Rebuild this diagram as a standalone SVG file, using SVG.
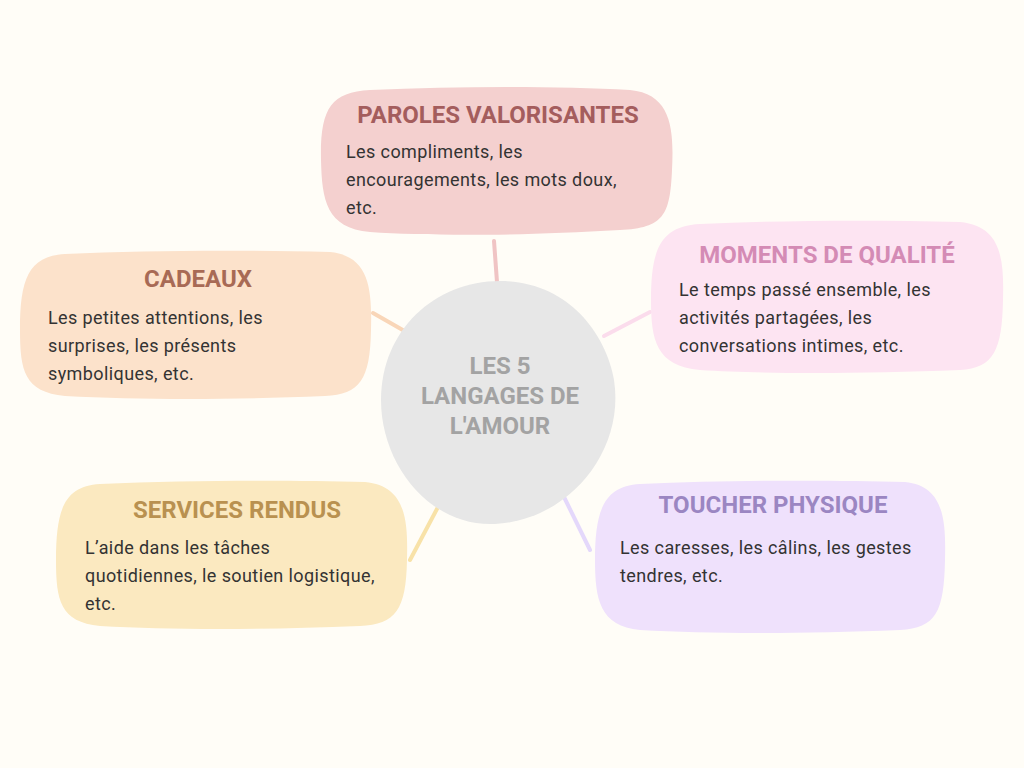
<svg xmlns="http://www.w3.org/2000/svg" width="1024" height="768" viewBox="0 0 1024 768">
<style>
.t{font-family:Roboto,"Liberation Sans",sans-serif;font-weight:bold;font-size:24px;text-anchor:middle}
.b{font-family:Roboto,"Liberation Sans",sans-serif;font-size:18px;letter-spacing:0.4px;fill:#333}
.c{stroke-width:4;fill:none;stroke-linecap:round}
</style>
<rect width="1024" height="768" fill="#fffdf7"/>
<g id="connectors">
<line class="c" x1="494" y1="241" x2="497" y2="282" stroke="#f0c4c4"/>
<line class="c" x1="373" y1="313" x2="408" y2="333" stroke="#f9d6b8"/>
<line class="c" x1="604" y1="336" x2="650" y2="312" stroke="#fbdcec"/>
<line class="c" x1="438" y1="507" x2="410" y2="560" stroke="#f8e2a8"/>
<line class="c" x1="564" y1="497" x2="590" y2="550" stroke="#e4d8fb"/>
</g>
<g id="center">
<path d="M500 281 C565 281 605 330 614 380 C625 450 570 520 495 524 C430 527 381 465 381 400 C381 330 435 281 500 281 Z" fill="#e7e7e7"/>
<text class="t" x="500" y="374" fill="#a3a3a3" font-size="29">LES 5</text>
<text class="t" x="500" y="404" fill="#a3a3a3" font-size="29">LANGAGES DE</text>
<text class="t" x="500" y="434" fill="#a3a3a3" font-size="29">L'AMOUR</text>
</g>
<g id="paroles">
<path d="M370 90 C460 86 560 86 630 90 C672 94 674 130 672 170 C670 215 664 228 620 230 C520 236 430 236 370 232 C326 228 322 200 321 160 C320 110 330 92 370 90 Z" fill="#f4d0cf"/>
<text class="t" x="498" y="123" fill="#a45d5d">PAROLES VALORISANTES</text>
<text class="b" x="346" y="158">Les compliments, les</text>
<text class="b" x="346" y="186">encouragements, les mots doux,</text>
<text class="b" x="346" y="214">etc.</text>
</g>
<g id="moments">
<path d="M700 224 C790 220 880 220 960 222 C1002 226 1004 260 1003 300 C1002 350 994 368 960 370 C860 374 760 374 700 370 C656 366 651 340 651 300 C651 250 660 226 700 224 Z" fill="#fde4f2"/>
<text class="t" x="827" y="263" fill="#d48bb5">MOMENTS DE QUALITÉ</text>
<text class="b" x="679" y="296">Le temps passé ensemble, les</text>
<text class="b" x="679" y="324">activités partagées, les</text>
<text class="b" x="679" y="352">conversations intimes, etc.</text>
</g>
<g id="cadeaux">
<path d="M65 254 C150 250 250 250 330 252 C370 256 372 290 371 330 C370 380 360 394 325 396 C230 400 140 400 65 396 C24 392 20 370 20 330 C20 280 28 256 65 254 Z" fill="#fce2cb"/>
<text class="t" x="198" y="287" fill="#a86a55">CADEAUX</text>
<text class="b" x="48" y="324">Les petites attentions, les</text>
<text class="b" x="48" y="352">surprises, les présents</text>
<text class="b" x="48" y="380">symboliques, etc.</text>
</g>
<g id="services">
<path d="M100 484 C190 480 290 480 365 482 C406 486 408 520 407 560 C406 610 396 624 360 626 C260 630 170 630 100 626 C60 622 56 600 56 560 C56 510 64 486 100 484 Z" fill="#fbe9c0"/>
<text class="t" x="237" y="518" fill="#b99150">SERVICES RENDUS</text>
<text class="b" x="85" y="554">L’aide dans les tâches</text>
<text class="b" x="85" y="582">quotidiennes, le soutien logistique,</text>
<text class="b" x="85" y="610">etc.</text>
</g>
<g id="toucher">
<path d="M640 484 C730 480 830 480 905 482 C944 486 946 520 945 560 C944 612 936 628 900 630 C800 634 710 634 640 630 C600 626 595 600 595 560 C595 510 604 486 640 484 Z" fill="#efe1fc"/>
<text class="t" x="773" y="513" fill="#9b86c2">TOUCHER PHYSIQUE</text>
<text class="b" x="620" y="554">Les caresses, les câlins, les gestes</text>
<text class="b" x="620" y="582">tendres, etc.</text>
</g>
</svg>
